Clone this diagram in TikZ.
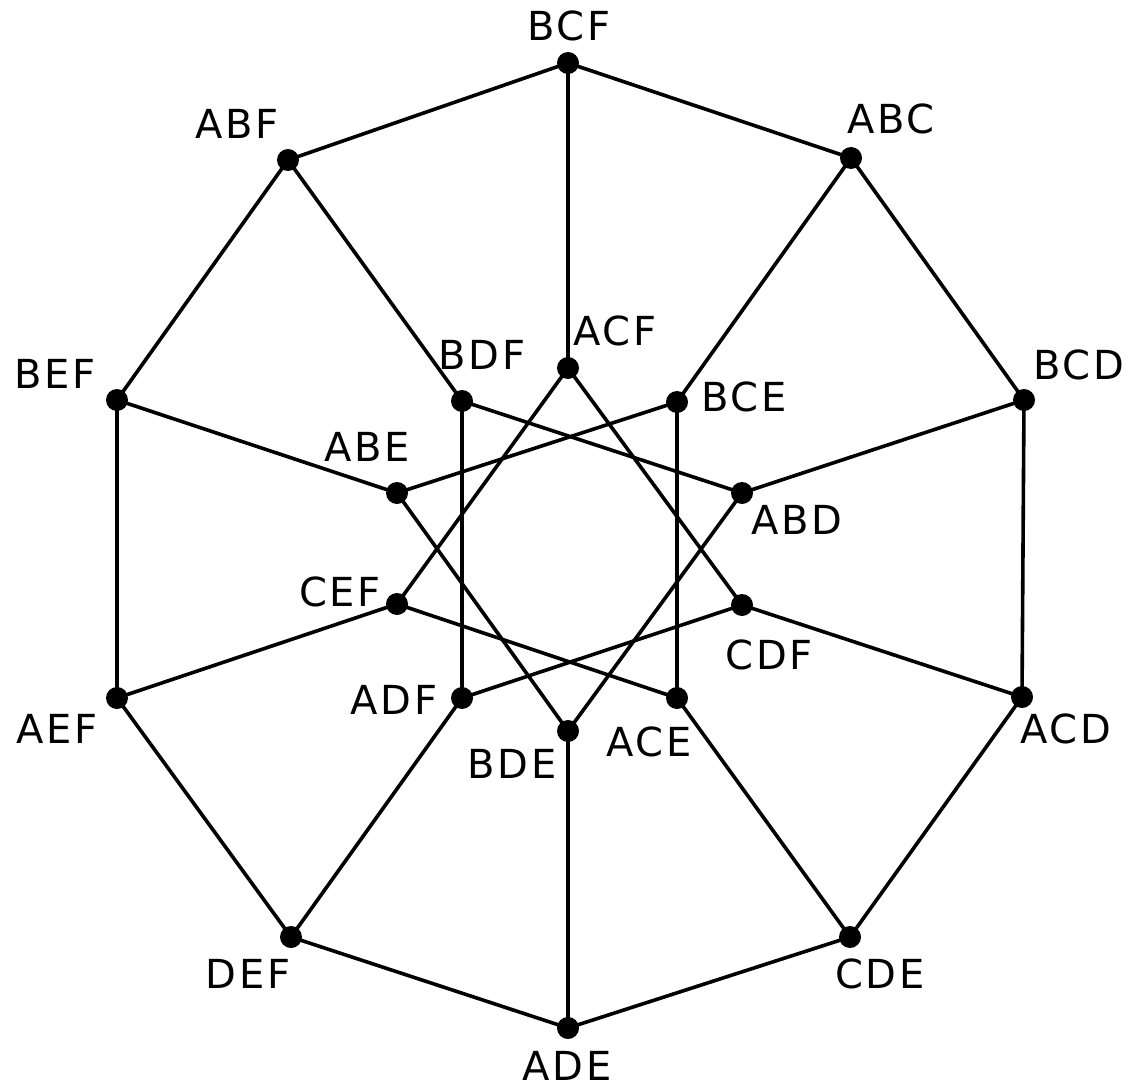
\documentclass[tikz,border=0pt]{standalone}
\usepackage{fontspec}
\setmainfont[LetterSpace=7]{DejaVu Sans}
\begin{document}
\begin{tikzpicture}[x=1pt,y=-1pt,
  vtx/.style={circle,fill=black,inner sep=0pt,minimum size=22pt},
  lbl/.style={inner sep=0pt,font=\fontsize{40}{48}\selectfont},
  edge/.style={line width=3.6pt}]
\useasboundingbox (0,0) rectangle (1133,1089);
\fill[white] (0,0) rectangle (1133,1089);
% outer vertices
\coordinate (BCF) at (568,63);
\coordinate (ABC) at (851,158);
\coordinate (BCD) at (1024,400);
\coordinate (ACD) at (1022,697);
\coordinate (CDE) at (850,937);
\coordinate (ADE) at (568,1028);
\coordinate (DEF) at (291,937);
\coordinate (AEF) at (117,698);
\coordinate (BEF) at (117,400);
\coordinate (ABF) at (288,160);
% inner vertices
\coordinate (ACF) at (568,368);
\coordinate (BCE) at (677,402);
\coordinate (ABD) at (742,493);
\coordinate (CDF) at (742,605);
\coordinate (ACE) at (677,698);
\coordinate (BDE) at (568,731);
\coordinate (ADF) at (462,698);
\coordinate (CEF) at (397,604);
\coordinate (ABE) at (397,493);
\coordinate (BDF) at (462,401);
% outer decagon
\draw[edge] (BCF)--(ABC)--(BCD)--(ACD)--(CDE)--(ADE)--(DEF)--(AEF)--(BEF)--(ABF)--cycle;
% spokes
\foreach \o/\i in {BCF/ACF,ABC/BCE,BCD/ABD,ACD/CDF,CDE/ACE,ADE/BDE,DEF/ADF,AEF/CEF,BEF/ABE,ABF/BDF}
  \draw[edge] (\o)--(\i);
% inner edges
\foreach \a/\b in {ACF/CEF,ACF/CDF,BCE/ABE,BCE/ACE,ABD/BDF,ABD/BDE,CDF/ADF,ACE/CEF,BDE/ABE,BDF/ADF}
  \draw[edge] (\a)--(\b);
% dots
\foreach \n in {BCF,ABC,BCD,ACD,CDE,ADE,DEF,AEF,BEF,ABF,ACF,BCE,ABD,CDF,ACE,BDE,ADF,CEF,ABE,BDF}
  \node[vtx] (d\n) at (\n) {};
% labels
\node[lbl] (lBCF) at (569,26) {BCF};
\node[lbl] (lABC) at (891,119) {ABC};
\node[lbl] (lBCD) at (1079,365) {BCD};
\node[lbl] (lACD) at (1066,729) {ACD};
\node[lbl] (lCDE) at (880,974) {CDE};
\node[lbl] (lADE) at (567,1066) {ADE};
\node[lbl] (lDEF) at (248,974) {DEF};
\node[lbl] (lAEF) at (57,729) {AEF};
\node[lbl] (lBEF) at (55,374) {BEF};
\node[lbl] (lABF) at (237,124) {ABF};
\node[lbl] (lACF) at (615,331) {ACF};
\node[lbl] (lBCE) at (744,397) {BCE};
\node[lbl] (lABD) at (797,520) {ABD};
\node[lbl] (lCDF) at (769,655) {CDF};
\node[lbl] (lACE) at (649,742) {ACE};
\node[lbl] (lBDE) at (512,764) {BDE};
\node[lbl] (lADF) at (394,700) {ADF};
\node[lbl] (lCEF) at (340,592) {CEF};
\node[lbl] (lABE) at (367,447) {ABE};
\node[lbl] (lBDF) at (482,355) {BDF};
\end{tikzpicture}
\end{document}
